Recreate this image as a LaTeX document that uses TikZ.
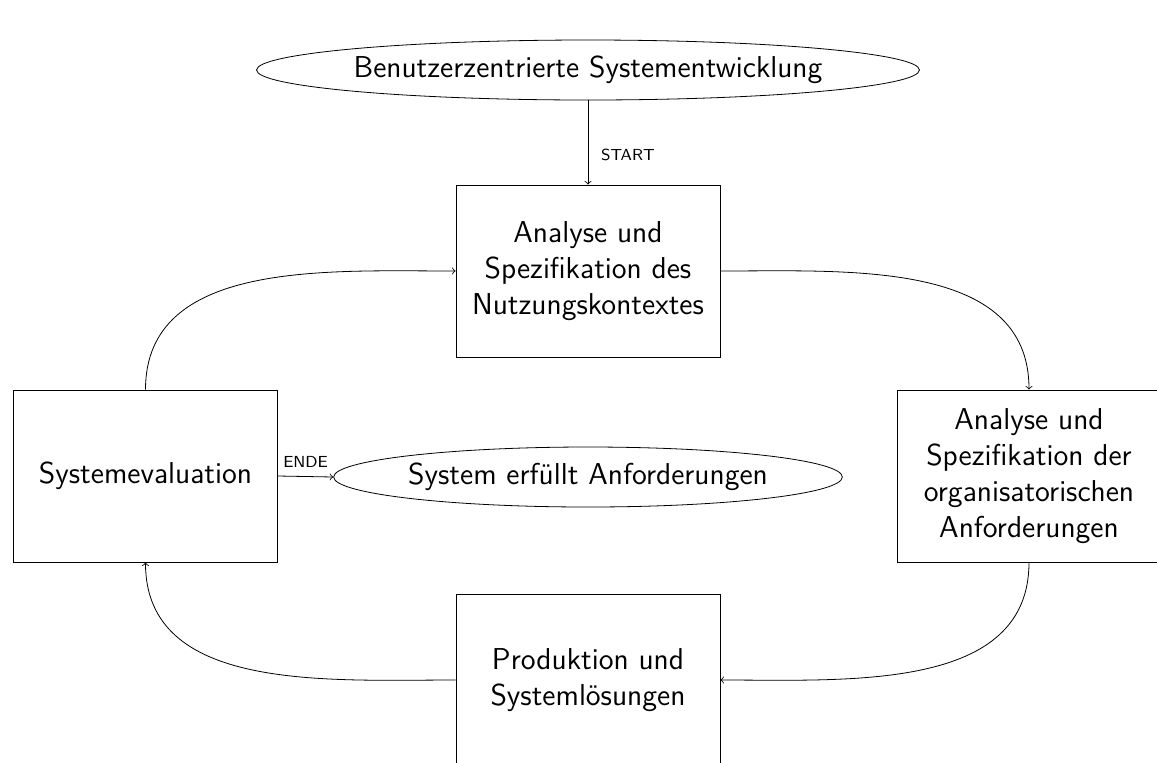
\documentclass[tikz,border=0pt]{standalone}
\usepackage{fontspec}
\usetikzlibrary{shapes.geometric}
\begin{document}
\begin{tikzpicture}[x=0.5pt,y=-0.5pt,
  every node/.style={font=\sffamily\fontsize{15.1}{18}\selectfont},
  boxnode/.style={draw, minimum width=132pt, minimum height=86pt, align=center, inner sep=2pt},
  ellnode/.style={draw, ellipse, inner sep=0pt, minimum height=30pt},
  lbl/.style={font=\sffamily\footnotesize},
  conn/.style={->}]
\useasboundingbox (0,0) rectangle (1157,762);
\clip (0,0) rectangle (1157,762);
\node[ellnode, minimum width=328pt] (top) at (588,70) {Benutzerzentrierte Systementwicklung};
\node[boxnode] (ana) at (588,271) {Analyse und\\Spezifikation des\\Nutzungskontextes};
\node[boxnode] (org) at (1029,476) {Analyse und\\Spezifikation der\\organisatorischen\\Anforderungen};
\node[boxnode] (prod) at (588,680) {Produktion und\\Systemlösungen};
\node[boxnode] (eval) at (145.5,476) {Systemevaluation};
\node[ellnode, minimum width=252pt] (ok) at (588,477) {System erfüllt Anforderungen};
\draw[conn] (top) -- node[lbl, pos=0.65, right=3pt] {START} (ana);
\draw[conn] (ana.east) to[out=0,in=90] (org.north);
\draw[conn] (org.south) to[out=-90,in=0] (prod.east);
\draw[conn] (prod.west) to[out=180,in=-90] (eval.south);
\draw[conn] (eval.north) to[out=90,in=180] (ana.west);
\draw[conn] (eval.east) -- node[lbl, above=1pt] {ENDE} (ok.west);
\end{tikzpicture}
\end{document}
